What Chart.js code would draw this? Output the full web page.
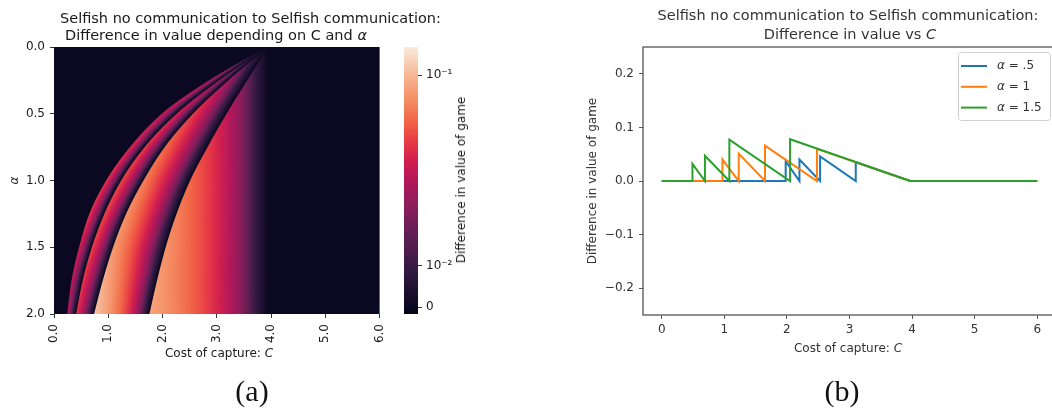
<!DOCTYPE html>
<html>
<head>
<meta charset="utf-8">
<script src="https://cdn.jsdelivr.net/npm/chart.js@4.4.1/dist/chart.umd.min.js"></script>
<style>
  body { margin: 0; width: 1052px; height: 409px; overflow: hidden; background: #fff; position: relative; font-family: "DejaVu Sans", sans-serif; }
  canvas { position: absolute; top: 0; }
  .t { position: absolute; white-space: nowrap; line-height: 1; }
  .c { transform: translate(-50%, -50%); }
  .l { transform: translate(0, -50%); }
  .cap { font-family: "Liberation Serif", serif; font-size: 30px; color: #111; }
</style>
</head>
<body>
<canvas id="heatmap" width="400" height="362" style="left:0"></canvas>
<canvas id="colorbar" width="100" height="362" style="left:380px"></canvas>
<canvas id="lines" width="500" height="362" style="left:560px"></canvas>

<div class="t l" style="left:60px; top:18px; font-size:14.5px; color:#1a1a1a">Selfish no communication to Selfish communication:</div>
<div class="t l" style="left:65px; top:35px; font-size:14.5px; color:#1a1a1a">Difference in value depending on C and <i>α</i></div>
<div class="t c" style="left:219px; top:353px; font-size:12px; color:#1a1a1a">Cost of capture: <i>C</i></div>
<div class="t c" style="left:461px; top:180px; font-size:12px; color:#1a1a1a; transform: translate(-50%, -50%) rotate(-90deg)">Difference in value of game</div>
<div class="t c cap" style="left:252px; top:391px">(a)</div>

<div class="t c" style="left:848px; top:15px; font-size:14.5px; color:#333">Selfish no communication to Selfish communication:</div>
<div class="t c" style="left:850px; top:34px; font-size:14.5px; color:#333">Difference in value vs <i>C</i></div>
<div class="t c" style="left:848px; top:348px; font-size:12px; color:#333">Cost of capture: <i>C</i></div>
<div class="t c cap" style="left:842px; top:391px">(b)</div>

<script>
// ---- (a) heatmap: band edges (cost C) read at these alpha values ----
const alphaSamples = [0, 0.25, 0.5, 0.75, 1, 1.25, 1.5, 1.75, 2];
const band1Start = [3.94, 2.87, 2.00, 1.41, 0.97, 0.66, 0.47, 0.33, 0.25];
const band2Start = [3.94, 3.03, 2.25, 1.66, 1.23, 0.92, 0.69, 0.52, 0.40];
const band3Start = [3.94, 3.20, 2.55, 2.03, 1.64, 1.32, 1.08, 0.89, 0.73];
const band4Start = [3.94, 3.55, 3.17, 2.82, 2.50, 2.25, 2.05, 1.89, 1.75];
const band4End = 3.94;
// value at the left edge of each band (falls to 0 at its right edge)
const band1Peak = [0, 0.029, 0.035, 0.040, 0.042, 0.042, 0.036, 0.031, 0.026];
const band2Peak = [0, 0.028, 0.040, 0.047, 0.050, 0.050, 0.048, 0.045, 0.043];
const band3Peak = [0, 0.026, 0.046, 0.060, 0.068, 0.076, 0.082, 0.095, 0.110];
const band4Peak = [0, 0.016, 0.031, 0.045, 0.058, 0.068, 0.076, 0.082, 0.088];
const heatCostTicks = [0, 1, 2, 3, 4, 5, 6];
const alphaTicks = [0, 0.5, 1, 1.5, 2];
const cbarTicks = [0, 0.01, 0.1];
const cbarLabels = ['0', '10\u207B\u00B2', '10\u207B\u00B9'];

// ---- (b) line chart ----
const seriesLabels = ['α = .5', 'α = 1', 'α = 1.5'];
const costBlue = [0, 1.98, 1.98, 2.20, 2.20, 2.53, 2.53, 3.10, 3.10, 3.97, 6];
const diffBlue = [0, 0, 0.037, 0, 0.040, 0, 0.046, 0, 0.035, 0, 0];
const costOrange = [0, 0.97, 0.97, 1.23, 1.23, 1.65, 1.65, 2.48, 2.48, 3.97, 6];
const diffOrange = [0, 0, 0.040, 0, 0.051, 0, 0.066, 0, 0.060, 0, 0];
const costGreen = [0, 0.49, 0.49, 0.69, 0.69, 1.08, 1.08, 2.05, 2.05, 3.97, 6];
const diffGreen = [0, 0, 0.032, 0, 0.047, 0, 0.077, 0, 0.078, 0, 0];
const costTicks = [0, 1, 2, 3, 4, 5, 6];
const diffTicks = [-0.2, -0.1, 0, 0.1, 0.2];

Chart.defaults.font.family = '"DejaVu Sans", sans-serif';
Chart.defaults.font.size = 12;

// rocket-like colour map (position 0..1 on the colour bar)
const rocket = [
  [0.00, [3, 5, 26]], [0.08, [27, 15, 47]], [0.17, [53, 26, 67]], [0.30, [97, 31, 86]],
  [0.40, [138, 29, 91]], [0.50, [179, 23, 90]], [0.58, [211, 32, 78]], [0.65, [231, 61, 69]],
  [0.72, [241, 100, 69]], [0.80, [244, 141, 99]], [0.88, [246, 176, 140]], [0.94, [247, 205, 179]],
  [1.00, [250, 235, 221]]
];
function cmap(t) {
  t = Math.max(0, Math.min(1, t));
  for (let i = 1; i < rocket.length; i++) {
    if (t <= rocket[i][0]) {
      const [t0, c0] = rocket[i - 1], [t1, c1] = rocket[i];
      const f = (t - t0) / (t1 - t0);
      const c = c0.map((v, k) => Math.round(v + (c1[k] - v) * f));
      return `rgb(${c[0]},${c[1]},${c[2]})`;
    }
  }
  return 'rgb(250,235,221)';
}
// where 0, 1e-2 and 1e-1 sit on the colour bar
const cbarPos = [0.026, 0.182, 0.895];
function normPos(v) {
  if (v <= 0.01) return cbarPos[0] + (v / 0.01) * (cbarPos[1] - cbarPos[0]);
  return cbarPos[1] + Math.log10(v / 0.01) * (cbarPos[2] - cbarPos[1]);
}

// smooth (monotone cubic) curve through the read edge points, for drawing
function edgeAt(ys, a) {
  const xs = alphaSamples, n = xs.length;
  const del = [];
  for (let i = 0; i < n - 1; i++) del.push((ys[i + 1] - ys[i]) / (xs[i + 1] - xs[i]));
  const m = [del[0]];
  for (let i = 1; i < n - 1; i++) m.push(del[i - 1] * del[i] <= 0 ? 0 : 2 / (1 / del[i - 1] + 1 / del[i]));
  m.push(del[n - 2]);
  let i = 0;
  while (i < n - 2 && a > xs[i + 1]) i++;
  const h = xs[i + 1] - xs[i], t = (a - xs[i]) / h;
  const t2 = t * t, t3 = t2 * t;
  return (2 * t3 - 3 * t2 + 1) * ys[i] + (t3 - 2 * t2 + t) * h * m[i] +
         (-2 * t3 + 3 * t2) * ys[i + 1] + (t3 - t2) * h * m[i + 1];
}

// heatmap rows (drawing resolution, 1 px each)
const nRows = 267;
const rowAlpha = Array.from({ length: nRows }, (_, i) => (i + 0.5) * 2 / nRows);

function bandFill(ctx) {
  const chart = ctx.chart;
  if (ctx.type !== 'data' || !chart.chartArea) return cmap(normPos(0));
  const ds = chart.data.datasets[ctx.datasetIndex];
  const [c0, c1] = ds.data[ctx.dataIndex];
  const peak = ds.peaks[ctx.dataIndex];
  const xs = chart.scales.x;
  const x0 = xs.getPixelForValue(c0), x1 = xs.getPixelForValue(c1);
  if (x1 - x0 < 0.5) return cmap(normPos(peak));
  const g = chart.ctx.createLinearGradient(x0, 0, x1, 0);
  for (let k = 0; k <= 20; k++) {
    const t = k / 20;
    g.addColorStop(t, cmap(normPos(peak * (1 - t))));
  }
  return g;
}

const bands = [
  [band1Start, band2Start, band1Peak],
  [band2Start, band3Start, band2Peak],
  [band3Start, band4Start, band3Peak],
  [band4Start, null, band4Peak]
];
const bandDatasets = bands.map(([s, e, p]) => ({
  data: rowAlpha.map(a => [edgeAt(s, a), e ? edgeAt(e, a) : band4End]),
  peaks: rowAlpha.map(a => Math.max(0, edgeAt(p, a))),
  backgroundColor: bandFill,
  borderWidth: 0,
  grouped: false,
  barPercentage: 1,
  categoryPercentage: 1
}));

const darkBackground = {
  id: 'darkBackground',
  beforeDatasetsDraw(chart) {
    const { ctx, chartArea: a } = chart;
    ctx.save();
    ctx.fillStyle = cmap(normPos(0));
    ctx.fillRect(a.left, a.top, a.right - a.left, a.bottom - a.top);
    ctx.restore();
  }
};

new Chart(document.getElementById('heatmap'), {
  type: 'bar',
  data: { labels: rowAlpha.map(a => a.toFixed(4)), datasets: bandDatasets },
  options: {
    indexAxis: 'y',
    responsive: false,
    animation: false,
    layout: { padding: { top: 47, right: 17, bottom: 0, left: 0 } },
    plugins: { legend: { display: false }, tooltip: { enabled: false } },
    scales: {
      x: {
        type: 'linear', min: 0, max: 6,
        afterBuildTicks: s => { s.ticks = heatCostTicks.map(v => ({ value: v })); },
        ticks: { callback: v => v.toFixed(1), minRotation: 90, maxRotation: 90, autoSkip: false, padding: 6, color: '#1a1a1a' },
        grid: { drawOnChartArea: false, tickLength: 4, color: '#333' },
        border: { display: false },
        afterFit: s => { s.height = 48; }
      },
      y: { display: false },
      y2: {
        type: 'linear', position: 'left', reverse: true, min: 0, max: 2, offset: false,
        afterBuildTicks: s => { s.ticks = alphaTicks.map(v => ({ value: v })); },
        ticks: { callback: v => v.toFixed(1), padding: 5, color: '#1a1a1a' },
        grid: { drawOnChartArea: false, offset: false, tickLength: 4, color: '#333' },
        border: { display: false },
        title: { display: true, text: 'α', color: '#1a1a1a', font: { style: 'italic', size: 12 }, padding: { top: 8, bottom: 0 } },
        afterFit: s => { s.width = 54; }
      }
    }
  },
  plugins: [darkBackground]
});

function cbarFill(ctx) {
  const chart = ctx.chart;
  const a = chart.chartArea;
  if (!a) return cmap(0.5);
  const g = chart.ctx.createLinearGradient(0, a.bottom, 0, a.top);
  for (let k = 0; k <= 40; k++) g.addColorStop(k / 40, cmap(k / 40));
  return g;
}

new Chart(document.getElementById('colorbar'), {
  type: 'bar',
  data: { labels: [''], datasets: [{ data: [[0, 1]], backgroundColor: cbarFill, borderWidth: 0, barPercentage: 1, categoryPercentage: 1 }] },
  options: {
    responsive: false,
    animation: false,
    layout: { padding: { top: 47, bottom: 48, left: 24, right: 0 } },
    plugins: { legend: { display: false }, tooltip: { enabled: false } },
    scales: {
      x: { display: false },
      y: {
        position: 'right', min: 0, max: 1,
        afterBuildTicks: s => { s.ticks = cbarTicks.map(v => ({ value: normPos(v) })); },
        ticks: { callback: (v, i) => cbarLabels[i], padding: 4, color: '#1a1a1a' },
        grid: { drawOnChartArea: false, tickLength: 4, color: '#333' },
        border: { display: false },
        afterFit: s => { s.width = 62; }
      }
    }
  }
});

// ---- (b) ----
const frame = {
  id: 'frame',
  afterDraw(chart) {
    const { ctx, chartArea: a } = chart;
    ctx.save();
    ctx.strokeStyle = '#555';
    ctx.lineWidth = 1.3;
    ctx.strokeRect(a.left, a.top, a.right - a.left, a.bottom - a.top);
    ctx.restore();
  }
};

const legendInside = {
  id: 'legendInside',
  afterDatasetsDraw(chart) {
    const { ctx, chartArea } = chart;
    const w = 92, h = 68;
    const x = chartArea.right - 98, y = chartArea.top + 5;
    ctx.save();
    ctx.beginPath();
    ctx.roundRect(x + 0.5, y + 0.5, w, h, 3);
    ctx.fillStyle = 'rgba(255,255,255,0.8)';
    ctx.fill();
    ctx.strokeStyle = '#d0d0d0';
    ctx.lineWidth = 1;
    ctx.stroke();
    chart.data.datasets.forEach((ds, i) => {
      const ly = y + 14 + i * 20.8;
      ctx.strokeStyle = ds.borderColor;
      ctx.lineWidth = 2;
      ctx.beginPath();
      ctx.moveTo(x + 3, ly);
      ctx.lineTo(x + 29, ly);
      ctx.stroke();
      ctx.fillStyle = '#333';
      ctx.textBaseline = 'middle';
      ctx.font = 'italic 12px "DejaVu Sans"';
      const sym = ds.label.charAt(0), rest = ds.label.slice(1);
      ctx.fillText(sym, x + 39, ly);
      const sw = ctx.measureText(sym).width;
      ctx.font = '12px "DejaVu Sans"';
      ctx.fillText(rest, x + 39 + sw, ly);
    });
    ctx.restore();
  }
};

const toPoints = (xs, ys) => xs.map((x, i) => ({ x, y: ys[i] }));

new Chart(document.getElementById('lines'), {
  type: 'line',
  data: {
    datasets: [
      { label: seriesLabels[0], data: toPoints(costBlue, diffBlue), borderColor: '#1f77b4', order: 3 },
      { label: seriesLabels[1], data: toPoints(costOrange, diffOrange), borderColor: '#ff7f0e', order: 2 },
      { label: seriesLabels[2], data: toPoints(costGreen, diffGreen), borderColor: '#2ca02c', order: 1 }
    ]
  },
  options: {
    responsive: false,
    animation: false,
    layout: { padding: { top: 47, right: 4, bottom: 5, left: 0 } },
    elements: { point: { radius: 0 }, line: { borderWidth: 2, tension: 0, fill: false } },
    plugins: { legend: { display: false }, tooltip: { enabled: false } },
    scales: {
      x: {
        type: 'linear', min: -0.3, max: 6.3,
        afterBuildTicks: s => { s.ticks = costTicks.map(v => ({ value: v })); },
        ticks: { callback: v => String(v), padding: 4, color: '#333' },
        grid: { drawOnChartArea: false, tickLength: 4, color: '#555' },
        border: { display: false },
        afterFit: s => { s.height = 42; }
      },
      y: {
        type: 'linear', min: -0.25, max: 0.25,
        afterBuildTicks: s => { s.ticks = diffTicks.map(v => ({ value: v })); },
        ticks: { callback: v => (v < -1e-9 ? '\u2212' : '') + Math.abs(v).toFixed(1), padding: 5, color: '#333' },
        grid: { drawOnChartArea: false, tickLength: 4, color: '#555' },
        border: { display: false },
        title: { display: true, text: 'Difference in value of game', color: '#333', padding: { top: 26, bottom: 0 } },
        afterFit: s => { s.width = 83; }
      }
    }
  },
  plugins: [frame, legendInside]
});
</script>
</body>
</html>
